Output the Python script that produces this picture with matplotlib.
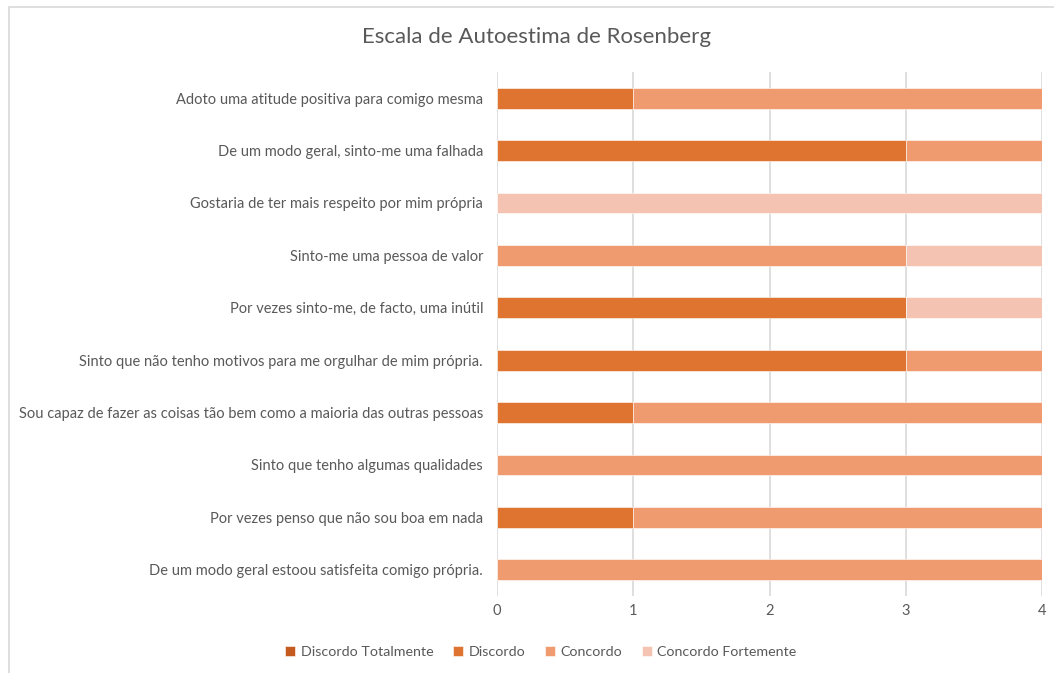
import numpy as np
import matplotlib.pyplot as plt
from matplotlib.patches import Rectangle

plt.rcParams['font.family'] = ['Lato', 'DejaVu Sans']

questions = [
    "Adoto uma atitude positiva para comigo mesma",
    "De um modo geral, sinto-me uma falhada",
    "Gostaria de ter mais respeito por mim própria",
    "Sinto-me uma pessoa de valor",
    "Por vezes sinto-me, de facto, uma inútil",
    "Sinto que não tenho motivos para me orgulhar de mim própria.",
    "Sou capaz de fazer as coisas tão bem como a maioria das outras pessoas",
    "Sinto que tenho algumas qualidades",
    "Por vezes penso que não sou boa em nada",
    "De um modo geral estoou satisfeita comigo própria.",
]
series = ["Discordo Totalmente", "Discordo", "Concordo", "Concordo Fortemente"]
discordo_totalmente = [0, 0, 0, 0, 0, 0, 0, 0, 0, 0]
discordo = [1, 3, 0, 0, 3, 3, 1, 0, 1, 0]
concordo = [3, 1, 0, 3, 0, 1, 3, 4, 3, 4]
concordo_fortemente = [0, 0, 4, 1, 1, 0, 0, 0, 0, 0]
x_ticks = [0, 1, 2, 3, 4]

colors = ["#C55A1E", "#DF7430", "#F09A70", "#F5C3B1"]
text_col = "#595959"

fig = plt.figure(figsize=(10.54, 6.73), dpi=100)
ax = fig.add_axes([497 / 1054, 1 - 596 / 673, (1042 - 497) / 1054, (596 - 72) / 673])

y = np.arange(len(questions))[::-1]
left = np.zeros(len(questions))
for name, vals, c in zip(series, [discordo_totalmente, discordo, concordo, concordo_fortemente], colors):
    vals = np.array(vals, dtype=float)
    ax.barh(y, vals, left=left, height=0.4, color=c, edgecolor="white", linewidth=0.4,
            label=name, zorder=2)
    left += vals

ax.set_xlim(0, 4)
ax.set_ylim(-0.5, len(questions) - 0.5)
ax.set_xticks(x_ticks)
ax.set_yticks(y)
ax.set_yticklabels(questions)
ax.tick_params(axis="both", length=0, colors=text_col, labelsize=10.5)
ax.tick_params(axis="y", pad=10)
ax.tick_params(axis="x", pad=6)
ax.grid(axis="x", color="#D9D9D9", linewidth=1.2, zorder=0)
for s in ax.spines.values():
    s.set_visible(False)

fig.text(537 / 1054, 1 - 37 / 673, "Escala de Autoestima de Rosenberg", ha="center", va="center",
         fontsize=16, color=text_col)

ax.legend(loc="center", bbox_to_anchor=(541 / 1054, 1 - 652 / 673), bbox_transform=fig.transFigure,
          ncol=4, frameon=False, fontsize=10.3, labelcolor=text_col, handlelength=0.7, handleheight=0.7,
          handletextpad=0.4, columnspacing=1.35)

fig.add_artist(Rectangle((8.5 / 1054, -0.01), 1.1, 1 - 6.5 / 673 + 0.01, transform=fig.transFigure,
                         fill=False, edgecolor="#D9D9D9", linewidth=1.2))

fig.savefig("out.png", dpi=100, facecolor="white")
